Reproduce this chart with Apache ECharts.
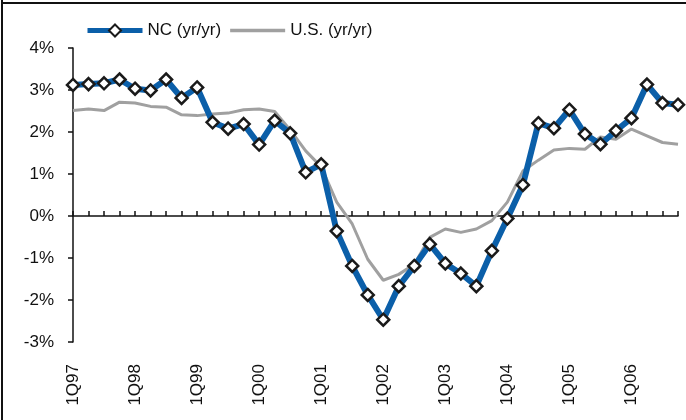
<!DOCTYPE html>
<html>
<head>
<meta charset="utf-8">
<script src="https://cdn.jsdelivr.net/npm/echarts@6/dist/echarts.min.js"></script>
<style>
  html, body { margin: 0; padding: 0; background: #fff; }
  #chart { width: 686px; height: 420px; }
</style>
</head>
<body>
<div id="chart"></div>
<script>
// quarters 1Q97 .. 4Q06
const years = ['97', '98', '99', '00', '01', '02', '03', '04', '05', '06'];
const quarters = [];
years.forEach(y => { for (let q = 1; q <= 4; q++) quarters.push(q + 'Q' + y); });

// NC job growth, yr/yr %
const ncValues = [
  3.12, 3.14, 3.16, 3.25, 3.03, 2.99, 3.25, 2.81, 3.06, 2.23,
  2.08, 2.19, 1.70, 2.27, 1.97, 1.04, 1.23, -0.36, -1.19, -1.88,
  -2.47, -1.67, -1.19, -0.67, -1.13, -1.37, -1.67, -0.83, -0.06, 0.74,
  2.21, 2.09, 2.53, 1.95, 1.71, 2.03, 2.33, 3.13, 2.69, 2.65
];

// U.S. job growth, yr/yr %
const usValues = [
  2.51, 2.55, 2.51, 2.71, 2.69, 2.61, 2.59, 2.41, 2.39, 2.43,
  2.45, 2.53, 2.55, 2.49, 2.05, 1.55, 1.17, 0.33, -0.19, -1.03,
  -1.53, -1.39, -1.15, -0.51, -0.31, -0.39, -0.31, -0.11, 0.33, 1.07,
  1.33, 1.57, 1.61, 1.59, 1.88, 1.83, 2.07, 1.91, 1.75, 1.71
];

const chart = echarts.init(document.getElementById('chart'));

const option = {
  animation: false,
  textStyle: { fontFamily: 'Liberation Sans, Arial, sans-serif' },
  legend: {
    top: 17,
    left: 80,
    itemWidth: 55,
    itemHeight: 15,
    itemGap: 9,
    textStyle: { fontSize: 17, color: '#111' },
    data: [
      { name: 'NC (yr/yr)', lineStyle: { width: 5 } },
      { name: 'U.S. (yr/yr)', icon: 'path://M0,0 L55,0 L55,3.5 L0,3.5 Z' }
    ]
  },
  grid: { left: 73, right: 8, top: 48, bottom: 78 },
  xAxis: [
    {
      // labels at the bottom
      type: 'category',
      data: quarters,
      boundaryGap: false,
      position: 'bottom',
      axisLine: { show: false, onZero: false },
      axisTick: { show: false },
      axisLabel: {
        rotate: 90,
        interval: 3,
        margin: 22,
        fontSize: 17,
        color: '#111'
      }
    },
    {
      // zero line with ticks
      type: 'category',
      data: quarters,
      boundaryGap: false,
      position: 'top',
      axisLine: { onZero: true, lineStyle: { color: '#111', width: 1.5 } },
      axisTick: { show: true, inside: false, length: 5, interval: 0, lineStyle: { color: '#111', width: 1.5 } },
      axisLabel: { show: false }
    }
  ],
  yAxis: {
    type: 'value',
    min: -3,
    max: 4,
    interval: 1,
    axisLine: { show: true, lineStyle: { color: '#111', width: 1.5 } },
    axisTick: { show: true, length: 5, lineStyle: { color: '#111', width: 1.5 } },
    splitLine: { show: false },
    axisLabel: {
      margin: 19,
      fontSize: 17,
      color: '#111',
      formatter: v => v + '%'
    }
  },
  series: [
    {
      name: 'U.S. (yr/yr)',
      type: 'line',
      data: usValues,
      symbol: 'none',
      lineStyle: { color: '#a0a0a0', width: 3 },
      itemStyle: { color: '#a0a0a0' },
      z: 2
    },
    {
      name: 'NC (yr/yr)',
      type: 'line',
      data: ncValues,
      symbol: 'diamond',
      symbolSize: 12,
      showAllSymbol: true,
      lineStyle: { color: '#0b5fa9', width: 6 },
      itemStyle: { color: '#fff', borderColor: '#1a1a1a', borderWidth: 2.5 },
      z: 3
    }
  ],
  graphic: [
    { type: 'line', shape: { x1: 2, y1: 0, x2: 2, y2: 420 }, style: { stroke: '#111', lineWidth: 2 } },
    { type: 'line', shape: { x1: 2, y1: 3, x2: 686, y2: 3 }, style: { stroke: '#111', lineWidth: 2 } }
  ]
};

chart.setOption(option);
</script>
</body>
</html>
